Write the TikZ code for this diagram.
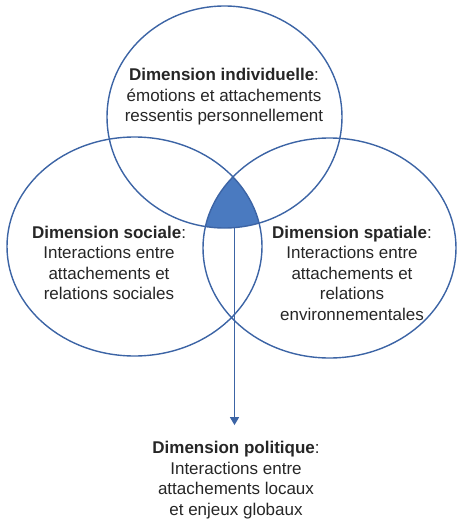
\documentclass[tikz,border=0pt]{standalone}
\usepackage{fontspec}
\setmainfont{Liberation Sans}
\usetikzlibrary{arrows.meta}
\definecolor{ringblue}{RGB}{60,100,165}
\definecolor{coreblue}{RGB}{74,122,192}
\definecolor{textgray}{RGB}{38,38,38}

\begin{document}
\begin{tikzpicture}[x=1pt,y=-1pt,
    dimring/.style={draw=ringblue,line width=1.4pt},
    dimtext/.style={align=center,text=textgray,font=\fontsize{17}{20.5}\selectfont,inner sep=0pt}]
    \useasboundingbox (0,0) rectangle (464,524);
    % Draw shared core (where all three dimensions meet)
    \begin{scope}
        \clip (224.5,117) ellipse [x radius=117.5,y radius=111];
        \clip (134.5,246.5) ellipse [x radius=127.5,y radius=109.5];
        \fill[coreblue] (329.5,248) ellipse [x radius=126.5,y radius=110];
    \end{scope}
    % Draw circles
    \draw[dimring] (224.5,117) ellipse [x radius=117.5,y radius=111]; % individuelle
    \draw[dimring] (134.5,246.5) ellipse [x radius=127.5,y radius=109.5]; % sociale
    \draw[dimring] (329.5,248) ellipse [x radius=126.5,y radius=110]; % spatiale
    % Draw texts
    \node[dimtext] (individuelle) at (224,97) {\textbf{Dimension individuelle}:\\émotions et attachements\\ressentis personnellement};
    \node[dimtext] (sociale) at (109,263) {\textbf{Dimension sociale}:\\Interactions entre\\attachements et\\relations sociales};
    \node[dimtext] (spatiale) at (352,273) {\textbf{Dimension spatiale}:\\Interactions entre\\attachements et\\relations\\environnementales};
    \node[dimtext] (politique) at (236,480) {\textbf{Dimension politique}:\\Interactions entre\\attachements locaux\\et enjeux globaux};
    % Draw arrow
    \coordinate (core) at (234.5,228);
    \draw[ringblue,line width=1.4pt,-{Triangle[width=9pt,length=8pt]},shorten >=16pt] (core) -- (core |- politique.north); % politique
\end{tikzpicture}
\end{document}
